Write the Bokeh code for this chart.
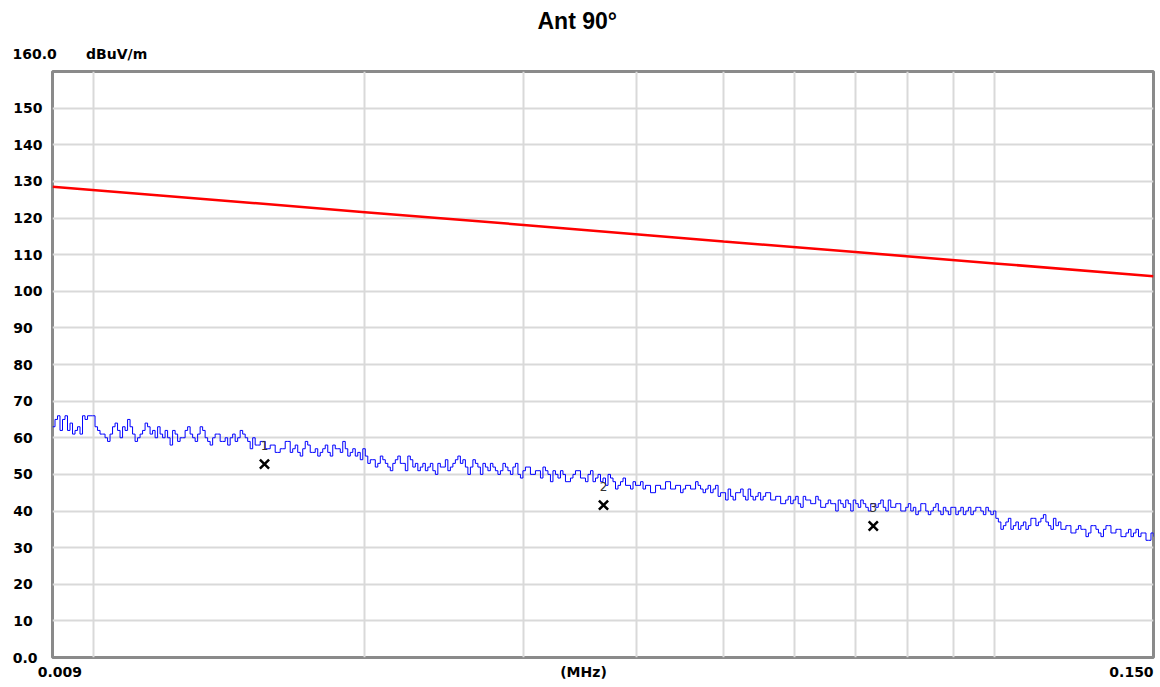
import numpy as np
from bokeh.plotting import figure
from bokeh.models import FixedTicker, ColumnDataSource, Title, CustomJSTickFormatter
from bokeh.embed import file_html
from bokeh.resources import INLINE
from bokeh.core.properties import value

# ---------------- data ----------------
TITLE = "Ant 90°"
F_START, F_STOP = 0.009, 0.150          # MHz
Y_MIN, Y_MAX = 0.0, 160.0               # dBuV/m
y_tick_values = [0, 10, 20, 30, 40, 50, 60, 70, 80, 90, 100, 110, 120, 130, 140, 150]
y_tick_labels = ["0.0", "10", "20", "30", "40", "50", "60", "70", "80", "90",
                 "100", "110", "120", "130", "140", "150"]
y_top_label = "160.0"
y_unit = "dBuV/m"
x_grid_values = [0.01, 0.02, 0.03, 0.04, 0.05, 0.06, 0.07, 0.08, 0.09, 0.1]
x_tick_labels = ["0.009", "(MHz)", "0.150"]

# limit line (red)
limit_freq = [0.009, 0.015, 0.02, 0.03, 0.05, 0.07, 0.1, 0.15]
limit_level = [128.5, 124.1, 121.6, 118.1, 113.6, 110.7, 107.6, 104.1]

# measured trace (blue), sweep points from 0.009 to 0.150 MHz
trace_level = [
    63, 65, 66, 62, 65, 66, 62, 64, 61, 62, 63, 61, 66, 65, 66, 66, 66, 63, 62, 61,
    61, 60, 59, 61, 63, 64, 62, 60, 63, 62, 65, 63, 61, 59, 60, 61, 62, 64, 63, 61,
    62, 60, 63, 61, 60, 62, 60, 58, 62, 61, 59, 60, 60, 62, 63, 61, 60, 59, 61, 63,
    62, 60, 59, 58, 60, 61, 61, 59, 59, 60, 58, 60, 61, 59, 60, 62, 61, 60, 59, 57,
    60, 58, 58, 59, 59, 57, 57, 58, 58, 56, 56, 57, 57, 59, 59, 56, 57, 58, 56, 55,
    57, 59, 58, 56, 56, 57, 55, 56, 57, 58, 56, 55, 58, 57, 57, 56, 59, 57, 55, 56,
    57, 55, 56, 54, 57, 55, 53, 54, 54, 52, 53, 55, 54, 53, 52, 51, 53, 54, 55, 53,
    53, 51, 55, 54, 52, 53, 51, 52, 53, 51, 52, 53, 51, 50, 53, 52, 52, 54, 51, 52,
    53, 54, 55, 53, 54, 52, 50, 52, 54, 53, 52, 50, 53, 52, 51, 53, 52, 51, 50, 51,
    53, 52, 51, 50, 52, 53, 50, 49, 51, 52, 52, 50, 50, 51, 51, 49, 52, 51, 50, 48,
    51, 50, 49, 51, 50, 48, 48, 49, 50, 51, 51, 49, 49, 48, 50, 51, 48, 49, 50, 48,
    49, 47, 50, 49, 48, 46, 47, 48, 49, 47, 47, 46, 48, 47, 47, 48, 46, 47, 47, 45,
    45, 47, 47, 46, 46, 48, 48, 46, 46, 47, 47, 45, 46, 47, 47, 46, 46, 48, 47, 46,
    45, 46, 47, 45, 46, 47, 44, 45, 45, 43, 46, 44, 43, 45, 45, 46, 44, 43, 46, 44,
    43, 44, 45, 43, 44, 45, 45, 43, 43, 44, 44, 42, 42, 43, 44, 42, 43, 44, 42, 41,
    44, 43, 43, 42, 42, 44, 43, 41, 41, 42, 43, 42, 42, 40, 43, 42, 41, 43, 42, 40,
    43, 42, 41, 43, 42, 41, 40, 42, 42, 41, 42, 43, 41, 40, 43, 41, 41, 42, 42, 40,
    40, 41, 42, 40, 41, 39, 40, 42, 42, 40, 39, 40, 41, 42, 40, 39, 41, 40, 39, 41,
    41, 39, 40, 41, 39, 40, 41, 39, 40, 41, 41, 40, 39, 41, 40, 39, 40, 38, 37, 35,
    36, 37, 38, 35, 36, 37, 35, 36, 37, 35, 36, 38, 38, 36, 37, 38, 39, 37, 36, 35,
    38, 36, 37, 35, 35, 36, 36, 34, 34, 35, 36, 35, 35, 33, 34, 36, 36, 35, 34, 33,
    35, 36, 36, 34, 34, 35, 35, 33, 33, 34, 35, 33, 34, 35, 33, 34, 34, 32, 32, 34,
    33,
]

# final markers
marker_freq = [0.01547, 0.03679, 0.0733]
marker_level = [52.8, 41.6, 35.9]
marker_id = ["1", "2", "3"]

# ---------------- figure ----------------
NB = "\u00a0"
trace_freq = np.geomspace(F_START, F_STOP, len(trace_level))
f_center = (F_START * F_STOP) ** 0.5

p = figure(
    width=1158, height=682,
    x_axis_type="log",
    x_range=(F_START, F_STOP), y_range=(Y_MIN, Y_MAX),
    output_backend="svg", toolbar_location=None,
    min_border_left=52, min_border_right=5,
    min_border_top=71, min_border_bottom=23,
    background_fill_color="white", border_fill_color="white",
)
p.outline_line_color = "#8a8a8a"
p.outline_line_width = 3

# grids
p.xgrid.ticker = FixedTicker(ticks=x_grid_values)
p.ygrid.ticker = FixedTicker(ticks=y_tick_values[1:])
for g in (p.xgrid, p.ygrid):
    g.grid_line_color = "#d9d9d9"
    g.grid_line_width = 2

LABEL_FONT = "DejaVu Sans"
LABEL_SIZE = "14px"

# y axis: labels padded so they start at the same x (left-aligned look)
y_disp = [t + (NB if "." in t else NB * 2 * (3 - len(t))) for t in y_tick_labels]
yax = p.yaxis[0]
yax.ticker = FixedTicker(ticks=y_tick_values)
yax.formatter = CustomJSTickFormatter(args=dict(labels=y_disp), code="return labels[index];")
yax.axis_line_color = None
yax.major_tick_line_color = None
yax.minor_tick_line_color = None
yax.major_tick_out = 0
yax.major_tick_in = 0
yax.major_label_standoff = 10
yax.major_label_text_font = LABEL_FONT
yax.major_label_text_font_size = LABEL_SIZE
yax.major_label_text_font_style = "bold"
yax.major_label_text_color = "black"

# x axis: three labels (start, unit, stop)
x_disp = [NB * 3 + x_tick_labels[0], x_tick_labels[1] + NB * 8, x_tick_labels[2] + NB]
xax = p.xaxis[0]
xax.ticker = FixedTicker(ticks=[F_START, f_center, F_STOP])
xax.formatter = CustomJSTickFormatter(args=dict(labels=x_disp), code="return labels[index];")
xax.axis_line_color = None
xax.major_tick_line_color = None
xax.minor_tick_line_color = None
xax.major_tick_out = 0
xax.major_tick_in = 0
xax.major_label_standoff = 6
xax.major_label_text_font = LABEL_FONT
xax.major_label_text_font_size = LABEL_SIZE
xax.major_label_text_font_style = "bold"
xax.major_label_text_color = "black"

# limit
p.line(limit_freq, limit_level, line_color="#ff0000", line_width=2.5)

# trace
p.step(trace_freq, trace_level, mode="after", line_color="#0000ff", line_width=1)

# markers
msrc = ColumnDataSource(dict(f=marker_freq, v=marker_level, t=marker_id,
                             tv=[v + 5 for v in marker_level]))
p.scatter("f", "v", source=msrc, marker="x", size=13, line_color="black", line_width=2.5)
p.text("f", "tv", text="t", source=msrc, text_font=value(LABEL_FONT),
       text_font_size="12px", text_color="#333333", text_align="center",
       text_baseline="middle")

# chart title (outermost)
p.title.text = TITLE
p.title.align = "left"
p.title.offset = 485
p.title.text_font = "Liberation Sans"
p.title.text_font_size = "23px"
p.title.text_font_style = "bold"
p.title.text_color = "black"
p.title.standoff = 2

# unit row just above the frame
p.add_layout(Title(text=y_top_label + NB * 6 + y_unit, align="left", offset=-40,
                   text_font=LABEL_FONT, text_font_size=LABEL_SIZE,
                   text_font_style="bold", text_color="black", standoff=19), "above")

open("out.html", "w").write(file_html(p, INLINE))
